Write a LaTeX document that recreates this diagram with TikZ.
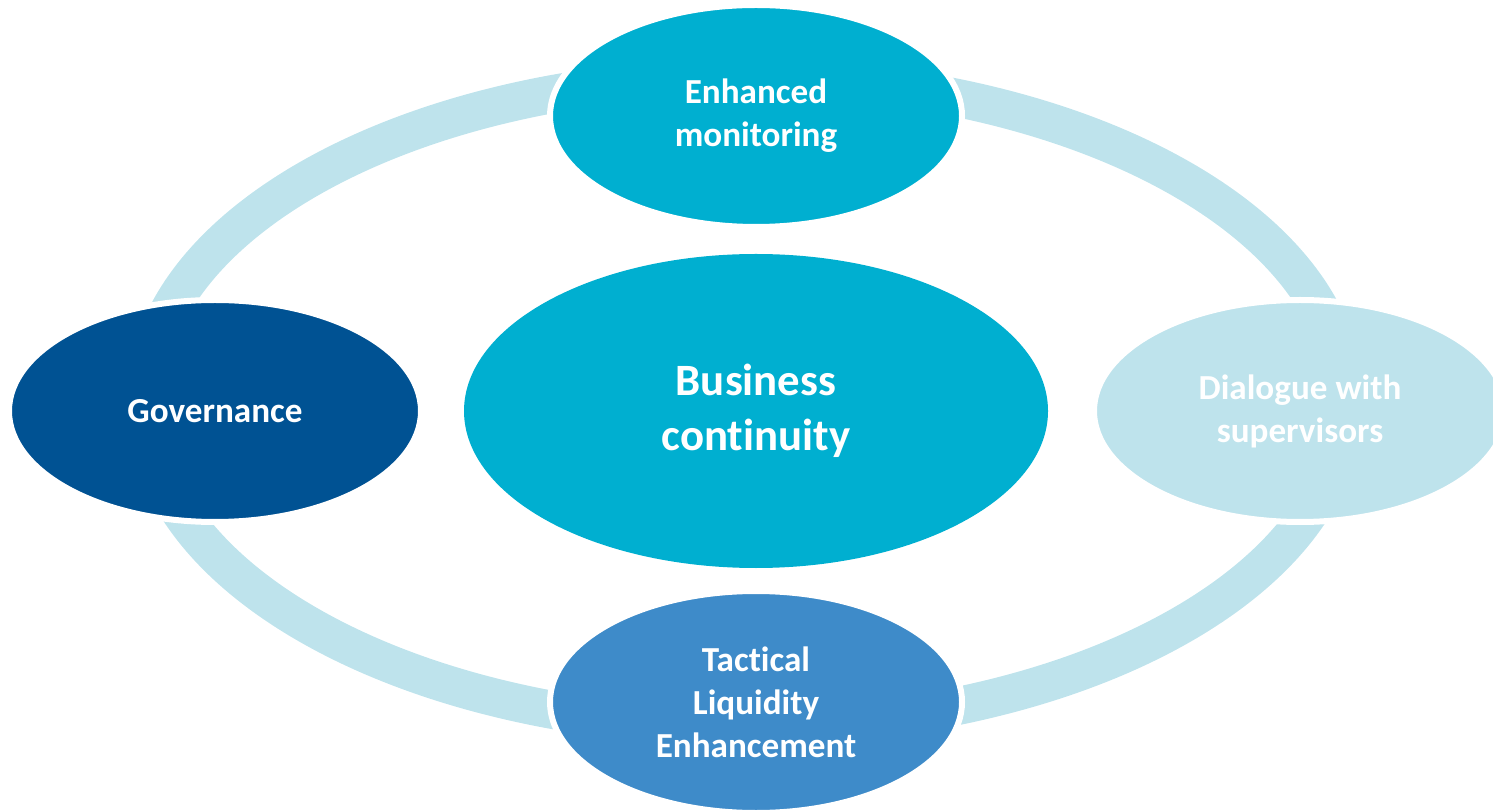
\documentclass[tikz,border=0pt]{standalone}
\usepackage{fontspec}
\setmainfont{Carlito}[Ligatures=NoCommon]
\usetikzlibrary{shapes.geometric}

\definecolor{cian}{HTML}{00AFD0}
\definecolor{azuloscuro}{HTML}{005293}
\definecolor{azulmedio}{HTML}{3E8BC9}
\definecolor{celeste}{HTML}{BEE3EC}

\tikzset{
  satelite/.style={ellipse, draw=white, line width=0.12cm, inner sep=0pt,
    minimum width=8.24cm, minimum height=4.44cm, text=white, align=center,
    font=\bfseries\fontsize{20}{24.4}\selectfont},
  nucleo/.style={ellipse, fill=cian, inner sep=0pt, minimum width=11.68cm,
    minimum height=6.28cm, text=white, align=center,
    font=\bfseries\fontsize{25.5}{31}\selectfont}
}

\begin{document}
\begin{tikzpicture}
\useasboundingbox (0,0) rectangle (29.86,16.22);

% Anillo de fondo
\draw[celeste, line width=0.76cm] (14.90,8.18) ellipse [x radius=12.0cm, y radius=6.5cm];

% Elipse central
\node[nucleo] (continuidad) at (15.12,8.00) {Business\\continuity};

% Elipses alrededor del anillo
\node[satelite, fill=cian] (monitoreo) at (15.12,13.90) {Enhanced\\monitoring};
\node[satelite, fill=azuloscuro] (gobierno) at (4.30,8.00) {Governance};
\node[satelite, fill=celeste] (dialogo) at (26.00,8.00) {Dialogue with\\supervisors};
\node[satelite, fill=azulmedio] (liquidez) at (15.12,2.18) {Tactical\\Liquidity\\Enhancement};
\end{tikzpicture}
\end{document}
